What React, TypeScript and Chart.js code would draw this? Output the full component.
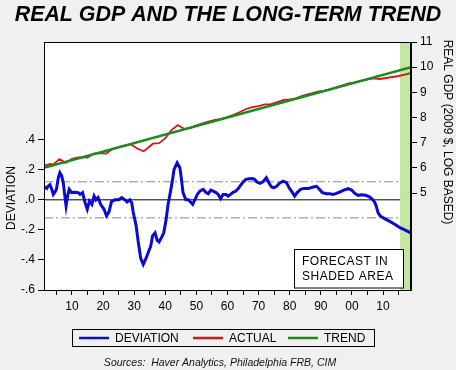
import { useEffect, useRef } from 'react';
import { Chart, registerables } from 'chart.js';

Chart.register(...registerables);

// ---- Data ----
const devYears = [
  1901.0, 1901.9, 1902.3, 1902.9, 1903.5, 1904.0, 1904.5, 1905.0, 1905.6, 1906.1, 1906.7, 1907.2, 1907.7, 1908.1,
  1908.6, 1909.1, 1909.9, 1911.0, 1912.0, 1912.6, 1913.4, 1914.2, 1914.9, 1915.6, 1916.4, 1917.1, 1917.7, 1918.4,
  1919.2, 1920.3, 1921.1, 1921.9, 1922.7, 1923.8, 1925.0, 1926.0, 1927.0, 1927.7, 1928.6, 1929.2, 1929.7, 1930.6,
  1931.3, 1932.1, 1932.9, 1933.8, 1934.5, 1935.3, 1935.9, 1936.7, 1937.4, 1938.0, 1938.8, 1939.5, 1940.2, 1940.9,
  1941.7, 1942.3, 1942.8, 1943.8, 1944.7, 1945.2, 1945.7, 1946.6, 1947.4, 1948.1, 1948.8, 1949.5, 1950.3, 1951.1,
  1952.2, 1953.0, 1953.8, 1954.6, 1955.4, 1956.3, 1957.0, 1957.8, 1958.6, 1959.5, 1960.2, 1961.0, 1961.8, 1962.7,
  1963.4, 1964.2, 1965.0, 1965.9, 1967.0, 1968.0, 1968.7, 1969.5, 1970.4, 1971.4, 1972.5, 1973.3, 1974.1, 1974.9,
  1975.8, 1976.8, 1977.9, 1979.0, 1979.8, 1980.9, 1981.6, 1982.4, 1983.5, 1984.6, 1986.0, 1987.6, 1988.6, 1989.4,
  1990.5, 1991.8, 1992.9, 1993.9, 1995.0, 1996.1, 1997.4, 1998.8, 1999.9, 2000.9, 2002.0, 2003.0, 2004.4, 2005.5,
  2006.6, 2007.3, 2007.8, 2008.4, 2009.1, 2010.5, 2011.9, 2013.2, 2014.5, 2015.6, 2017.0, 2018.6, 2019.0,
];
const devValues = [
  0.088, 0.076, 0.09, 0.1, 0.07, 0.036, 0.05, 0.07, 0.147, 0.18, 0.158, 0.114, 0.025, -0.04,
  0.025, 0.07, 0.048, 0.05, 0.048, 0.036, 0.048, -0.019, -0.063, -0.008, -0.03, 0.025, 0.0, 0.015,
  -0.03, -0.063, -0.107, -0.08, -0.012, 0.0, 0.0, 0.015, 0.0, -0.015, 0.0, -0.019, -0.085, -0.17,
  -0.28, -0.39, -0.43, -0.39, -0.35, -0.31, -0.24, -0.22, -0.27, -0.28, -0.25, -0.22, -0.14, -0.03,
  0.058, 0.13, 0.2, 0.246, 0.213, 0.136, 0.048, 0.0, 0.0, -0.015, -0.03, 0.0, 0.036, 0.058,
  0.07, 0.05, 0.04, 0.065, 0.058, 0.048, 0.036, 0.008, 0.036, 0.036, 0.025, 0.036, 0.05, 0.058,
  0.074, 0.096, 0.118, 0.136, 0.14, 0.142, 0.136, 0.118, 0.109, 0.12, 0.147, 0.114, 0.087, 0.08,
  0.09, 0.112, 0.124, 0.114, 0.08, 0.048, 0.025, 0.048, 0.07, 0.076, 0.076, 0.085, 0.09, 0.074,
  0.048, 0.04, 0.04, 0.036, 0.043, 0.052, 0.065, 0.074, 0.065, 0.043, 0.03, 0.034, 0.03, 0.021,
  0.003, -0.015, -0.04, -0.085, -0.107, -0.125, -0.14, -0.156, -0.173, -0.187, -0.2, -0.217, -0.222,
];

const actualYears = [
  1901, 1903, 1904, 1906, 1908, 1910, 1912, 1914, 1915, 1917, 1919, 1921, 1923, 1926, 1929, 1930, 1931, 1933,
  1934, 1936, 1938, 1940, 1942, 1944, 1946, 1948, 1950, 1953, 1956, 1958, 1960, 1962, 1964, 1966, 1968, 1970,
  1972, 1974, 1976, 1978, 1980, 1982, 1984, 1987, 1989, 1991, 1993, 1996, 1999, 2001, 2003, 2005, 2007, 2009,
  2011, 2013, 2015, 2017, 2019,
];
const actualValues = [
  6.09, 6.16, 6.14, 6.35, 6.2, 6.36, 6.42, 6.42, 6.41, 6.57, 6.59, 6.57, 6.75, 6.86, 6.93, 6.85, 6.77, 6.66,
  6.75, 6.96, 6.98, 7.18, 7.5, 7.7, 7.55, 7.58, 7.69, 7.81, 7.91, 7.95, 8.02, 8.11, 8.22, 8.34, 8.41, 8.45,
  8.52, 8.53, 8.61, 8.7, 8.72, 8.76, 8.86, 8.96, 9.03, 9.06, 9.12, 9.24, 9.36, 9.4, 9.46, 9.52, 9.56, 9.53,
  9.57, 9.61, 9.65, 9.7, 9.77,
];

const trendYears = [1901, 2019];
const trendValues = [6.0, 10.0];

const refLevels = [0.12, -0.12];
const refSpan = [1901, 2015.5];
const forecastStart = 2015.5;

const xTickYears = [
  1905, 1910, 1915, 1920, 1925, 1930, 1935, 1940, 1945, 1950, 1955, 1960, 1965, 1970, 1975, 1980, 1985, 1990, 1995,
  2000, 2005, 2010, 2015,
];
const leftTicks = [-0.6, -0.4, -0.2, 0, 0.2, 0.4];
const leftTickLabels = ['-.6', '-.4', '-.2', '.0', '.2', '.4'];
const rightTicks = [5, 6, 7, 8, 9, 10, 11];

const legendItems = [
  { label: 'DEVIATION', color: '#0a0ad2' },
  { label: 'ACTUAL', color: '#d01818' },
  { label: 'TREND', color: '#1c8a1c' },
];

const FONT = '"Liberation Sans", Arial, sans-serif';

const zip = (xs: number[], ys: number[]) => xs.map((x, i) => ({ x, y: ys[i] }));

export default function App() {
  const ref = useRef<HTMLCanvasElement>(null);

  useEffect(() => {
    document.body.style.margin = '0';
    const canvas = ref.current!;

    const decor = {
      id: 'decor',
      beforeDraw(chart: any) {
        const { ctx, chartArea: a } = chart;
        ctx.save();
        ctx.fillStyle = '#ffffff';
        ctx.fillRect(a.left, a.top, a.right - a.left, a.bottom - a.top);
        ctx.restore();
      },
      beforeDatasetsDraw(chart: any) {
        const { ctx, chartArea: a } = chart;
        const xs = chart.scales.x.getPixelForValue(forecastStart);
        ctx.save();
        ctx.fillStyle = '#c2e8a0';
        ctx.fillRect(xs, a.top, a.right - xs, a.bottom - a.top);
        ctx.restore();
      },
      afterDraw(chart: any) {
        const { ctx, chartArea: a } = chart;
        ctx.save();
        // plot frame
        ctx.strokeStyle = '#000';
        ctx.lineWidth = 1;
        ctx.strokeRect(Math.round(a.left) + 0.5, Math.round(a.top) + 0.5, Math.round(a.right - a.left) - 1, Math.round(a.bottom - a.top));

        // forecast box
        ctx.fillStyle = '#fff';
        ctx.fillRect(294.5, 249.5, 109, 38.5);
        ctx.strokeRect(294.5, 249.5, 109, 38.5);
        ctx.fillStyle = '#000';
        ctx.font = `12px ${FONT}`;
        (ctx as any).letterSpacing = '0.5px';
        ctx.textAlign = 'left';
        ctx.textBaseline = 'middle';
        ctx.fillText('FORECAST IN', 302, 262);
        ctx.fillText('SHADED AREA', 302, 277);
        (ctx as any).letterSpacing = '0px';

        // title
        ctx.font = `italic bold 21.4px ${FONT}`;
        ctx.textAlign = 'center';
        ctx.fillText('REAL GDP AND THE LONG-TERM TREND', 228, 15);

        // axis titles
        ctx.font = `12px ${FONT}`;
        ctx.save();
        ctx.translate(12, 198);
        ctx.rotate(-Math.PI / 2);
        ctx.fillText('DEVIATION', 0, 0);
        ctx.restore();
        ctx.save();
        ctx.translate(447, 132);
        ctx.rotate(Math.PI / 2);
        ctx.fillText('REAL GDP (2009 $, LOG BASED)', 0, 0);
        ctx.restore();

        // legend
        ctx.strokeStyle = '#000';
        ctx.lineWidth = 1;
        ctx.strokeRect(72.5, 329.5, 302, 17);
        const starts = [79, 193, 288];
        ctx.textAlign = 'left';
        legendItems.forEach((it, i) => {
          const x0 = starts[i];
          ctx.strokeStyle = it.color;
          ctx.lineWidth = 2.5;
          ctx.beginPath();
          ctx.moveTo(x0, 338);
          ctx.lineTo(x0 + 30, 338);
          ctx.stroke();
          ctx.fillStyle = '#000';
          ctx.fillText(it.label, x0 + 36, 338.5);
        });

        // sources
        ctx.font = `italic 10.5px ${FONT}`;
        ctx.textAlign = 'center';
        ctx.fillStyle = '#111';
        ctx.fillText('Sources:  Haver Analytics, Philadelphia FRB, CIM', 220, 363);
        ctx.restore();
      },
    };

    const chart = new Chart(canvas, {
      type: 'line',
      data: {
        datasets: [
          {
            label: 'DEVIATION',
            data: zip(devYears, devValues),
            borderColor: legendItems[0].color,
            borderWidth: 3,
            yAxisID: 'y',
          },
          {
            label: 'TREND',
            data: zip(trendYears, trendValues),
            borderColor: legendItems[2].color,
            borderWidth: 2.5,
            yAxisID: 'y2',
          },
          {
            label: 'ACTUAL',
            data: zip(actualYears, actualValues),
            borderColor: legendItems[1].color,
            borderWidth: 1.8,
            yAxisID: 'y2',
          },
          {
            label: 'zero',
            data: zip(refSpan, [0, 0]),
            borderColor: '#000',
            borderWidth: 1,
            yAxisID: 'y',
          },
          ...refLevels.map((lv) => ({
            label: 'ref',
            data: zip(refSpan, [lv, lv]),
            borderColor: '#8a8a8a',
            borderWidth: 1,
            borderDash: [9, 3, 2, 3],
            yAxisID: 'y',
          })),
        ],
      },
      options: {
        responsive: false,
        animation: false,
        devicePixelRatio: 1,
        layout: { padding: { top: 42, left: 0, right: 0, bottom: 0 } },
        elements: { point: { radius: 0 }, line: { tension: 0 } },
        plugins: { legend: { display: false }, title: { display: false }, tooltip: { enabled: false } },
        font: { family: FONT },
        scales: {
          x: {
            type: 'linear',
            min: 1901,
            max: 2019,
            afterBuildTicks: (s: any) => {
              s.ticks = xTickYears.map((v) => ({ value: v }));
            },
            afterFit: (s: any) => {
              s.height = 80;
            },
            ticks: {
              autoSkip: false,
              maxRotation: 0,
              padding: 4,
              color: '#000',
              font: { family: FONT, size: 12 },
              callback: (v: any) => (Number(v) % 10 === 0 ? String(Number(v) % 100).padStart(2, '0') : ''),
            },
            grid: { drawOnChartArea: false, tickLength: 5, tickColor: '#000' },
            border: { color: '#000' },
          },
          y: {
            type: 'linear',
            position: 'left',
            min: -0.6,
            max: 1.05,
            afterBuildTicks: (s: any) => {
              s.ticks = leftTicks.map((v) => ({ value: v }));
            },
            afterFit: (s: any) => {
              s.width = 44;
            },
            ticks: {
              color: '#000',
              padding: 3,
              font: { family: FONT, size: 12 },
              callback: (v: any) => {
                const i = leftTicks.findIndex((t) => Math.abs(t - Number(v)) < 1e-6);
                return i >= 0 ? leftTickLabels[i] : '';
              },
            },
            grid: { drawOnChartArea: false, tickLength: 6, tickColor: '#000' },
            border: { color: '#000' },
          },
          y2: {
            type: 'linear',
            position: 'right',
            min: 1.15,
            max: 11,
            afterBuildTicks: (s: any) => {
              s.ticks = rightTicks.map((v) => ({ value: v }));
            },
            afterFit: (s: any) => {
              s.width = 45;
            },
            ticks: {
              color: '#000',
              padding: 3,
              font: { family: FONT, size: 12 },
              callback: (v: any) => String(v),
            },
            grid: { drawOnChartArea: false, tickLength: 6, tickColor: '#000' },
            border: { color: '#000' },
          },
        },
      } as any,
      plugins: [decor],
    });

    return () => chart.destroy();
  }, []);

  return (
    <div style={{ position: 'fixed', left: 0, top: 0, width: 456, height: 370, background: '#f0f0f0' }}>
      <canvas ref={ref} width={456} height={370} style={{ display: 'block' }} />
    </div>
  );
}
